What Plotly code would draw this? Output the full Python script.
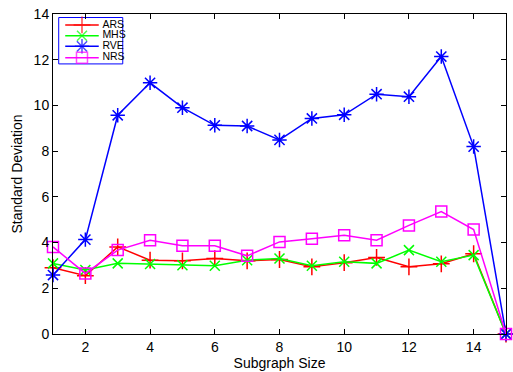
import plotly.graph_objects as go

subgraph_size = list(range(1, 16))

ars = [2.90, 2.55, 3.81, 3.23, 3.20, 3.30, 3.20, 3.26, 2.94, 3.12, 3.35, 2.94, 3.07, 3.51, 0.0]
mhs = [3.09, 2.80, 3.09, 3.06, 3.01, 2.99, 3.23, 3.30, 2.99, 3.16, 3.09, 3.67, 3.16, 3.45, 0.0]
rve = [2.58, 4.13, 9.57, 10.99, 9.90, 9.13, 9.10, 8.49, 9.43, 9.59, 10.49, 10.38, 12.14, 8.20, 0.0]
nrs = [3.81, 2.65, 3.67, 4.10, 3.86, 3.86, 3.42, 4.03, 4.17, 4.32, 4.10, 4.75, 5.36, 4.57, 0.0]

series_names = ["ARS", "MHS", "RVE", "NRS"]
series_values = [ars, mhs, rve, nrs]
series_colors = ["#ff0000", "#00ff00", "#0000ff", "#ff00ff"]
series_symbols = ["cross-thin-open", "x-thin-open", "asterisk-open", "square-open"]
series_sizes = [12, 10, 12, 11]

x_ticks = [2, 4, 6, 8, 10, 12, 14]
y_ticks = [0, 2, 4, 6, 8, 10, 12, 14]

FONT = "Liberation Sans, Arial"

fig = go.Figure()
for name, vals, color, symbol, size in zip(series_names, series_values, series_colors,
                                           series_symbols, series_sizes):
    fig.add_trace(go.Scatter(
        x=subgraph_size, y=vals, name=name, mode="lines+markers", showlegend=False,
        cliponaxis=False,
        line=dict(color=color, width=1.5),
        marker=dict(symbol=symbol, size=size, color=color,
                    line=dict(color=color, width=1.5)),
    ))

# Compact legend box in the upper-left corner, drawn on an overlay axis
# spanning [0, 1] in both directions over the plotting area.
box_x0, box_x1 = 0.0126, 0.154
box_y0, box_y1 = 0.844, 0.989
row_y = [0.966, 0.932, 0.899, 0.863]
seg_x0, seg_x1, mark_x, text_x = 0.027, 0.101, 0.064, 0.109

fig.add_shape(type="rect", xref="x2", yref="y2", x0=box_x0, x1=box_x1, y0=box_y0, y1=box_y1,
              line=dict(color="#0000ff", width=1), fillcolor="white", layer="below")
for name, color, symbol, size, yy in zip(series_names, series_colors, series_symbols,
                                          series_sizes, row_y):
    fig.add_trace(go.Scatter(
        x=[seg_x0, mark_x, seg_x1], y=[yy, yy, yy], xaxis="x2", yaxis="y2",
        mode="lines+markers", showlegend=False, hoverinfo="skip",
        line=dict(color=color, width=1.5),
        marker=dict(symbol=symbol, size=[0, size, 0], color=color,
                    line=dict(color=color, width=1.5)),
    ))
fig.add_trace(go.Scatter(
    x=[text_x] * len(series_names), y=row_y, xaxis="x2", yaxis="y2",
    mode="text", text=series_names, textposition="middle right",
    textfont=dict(family=FONT, size=10.5, color="black"),
    showlegend=False, hoverinfo="skip", cliponaxis=False,
))

axis_common = dict(
    showgrid=False, zeroline=False, showline=True, linecolor="black",
    linewidth=1, mirror="ticks", ticks="inside", ticklen=5,
    tickcolor="black", tickfont=dict(family=FONT, size=14, color="black"),
)

fig.update_xaxes(range=[1, 15], tickvals=x_ticks,
                 title=dict(text="Subgraph Size", standoff=1,
                            font=dict(family=FONT, size=14, color="black")),
                 **axis_common)
fig.update_yaxes(range=[0, 14], tickvals=y_ticks,
                 title=dict(text="Standard Deviation", standoff=7,
                            font=dict(family=FONT, size=14, color="black")),
                 **axis_common)

fig.update_layout(
    width=513, height=372,
    margin=dict(l=53, r=6, t=14, b=36),
    plot_bgcolor="white", paper_bgcolor="white",
    showlegend=False,
    xaxis2=dict(overlaying="x", range=[0, 1], visible=False, fixedrange=True),
    yaxis2=dict(overlaying="y", range=[0, 1], visible=False, fixedrange=True),
)

fig.write_html("out.html")
